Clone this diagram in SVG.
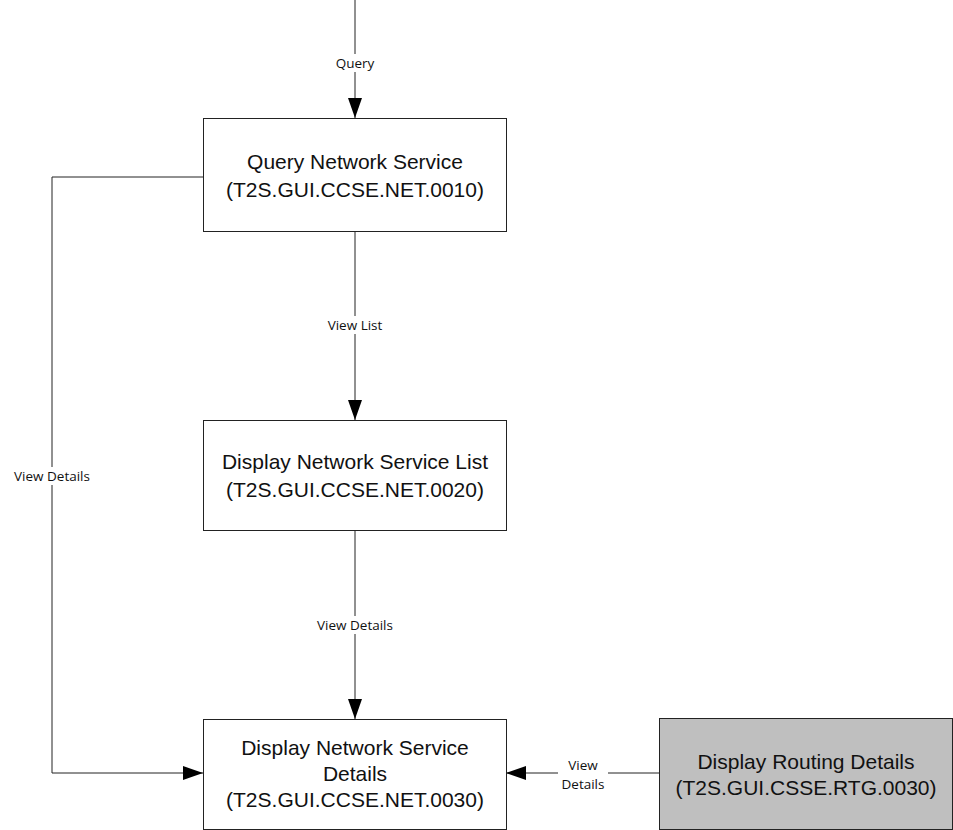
<svg xmlns="http://www.w3.org/2000/svg" width="953" height="830" viewBox="0 0 953 830">
<style>
.box{fill:#fff;stroke:#222;stroke-width:1}
.gray{fill:#bfbfbf}
.t{font-family:"Liberation Sans",Arial,sans-serif;font-size:21px;fill:#111;text-anchor:middle}
.l{font-family:"Open Sans","Liberation Sans",sans-serif;font-size:13.5px;fill:#111;text-anchor:middle}
.c{fill:none;stroke:#222;stroke-width:1}
.bg{fill:#fff}
</style>
<defs>
<marker id="ah" viewBox="0 0 20 14" refX="20" refY="7" markerWidth="20" markerHeight="14" markerUnits="userSpaceOnUse" orient="auto">
<path d="M0,0 L20,7 L0,14 Z" fill="#000"/>
</marker>
</defs>
<rect width="953" height="830" fill="#fff"/>
<g id="connectors">
<line class="c" x1="355" y1="0" x2="355" y2="118" marker-end="url(#ah)"/>
<line class="c" x1="355" y1="231" x2="355" y2="420" marker-end="url(#ah)"/>
<line class="c" x1="355" y1="530" x2="355" y2="719" marker-end="url(#ah)"/>
<polyline class="c" points="203,177 52,177 52,773 203,773" marker-end="url(#ah)"/>
<line class="c" x1="659" y1="773" x2="506" y2="773" marker-end="url(#ah)"/>
<rect class="bg" x="330" y="54" width="50" height="18"/>
<text class="l" x="355" y="68">Query</text>
<rect class="bg" x="320" y="316" width="70" height="18"/>
<text class="l" x="355" y="330">View List</text>
<rect class="bg" x="312" y="616" width="86" height="18"/>
<text class="l" x="355" y="630">View Details</text>
<rect class="bg" x="8" y="467" width="88" height="18"/>
<text class="l" x="52" y="481">View Details</text>
<rect class="bg" x="558" y="756" width="50" height="36"/>
<text class="l" x="583" y="770">View</text>
<text class="l" x="583" y="789">Details</text>
</g>
<g id="n1">
<rect class="box" x="203.5" y="118.5" width="303" height="113"/>
<text class="t" x="355" y="169">Query Network Service</text>
<text class="t" x="355" y="197">(T2S.GUI.CCSE.NET.0010)</text>
</g>
<g id="n2">
<rect class="box" x="203.5" y="420.5" width="303" height="110"/>
<text class="t" x="355" y="469">Display Network Service List</text>
<text class="t" x="355" y="497">(T2S.GUI.CCSE.NET.0020)</text>
</g>
<g id="n3">
<rect class="box" x="203.5" y="719.5" width="303" height="110"/>
<text class="t" x="355" y="755">Display Network Service</text>
<text class="t" x="355" y="781">Details</text>
<text class="t" x="355" y="807">(T2S.GUI.CCSE.NET.0030)</text>
</g>
<g id="n4">
<rect class="box gray" x="659.5" y="718.5" width="293" height="111"/>
<text class="t" x="806" y="769">Display Routing Details</text>
<text class="t" x="806" y="795">(T2S.GUI.CSSE.RTG.0030)</text>
</g>
</svg>
